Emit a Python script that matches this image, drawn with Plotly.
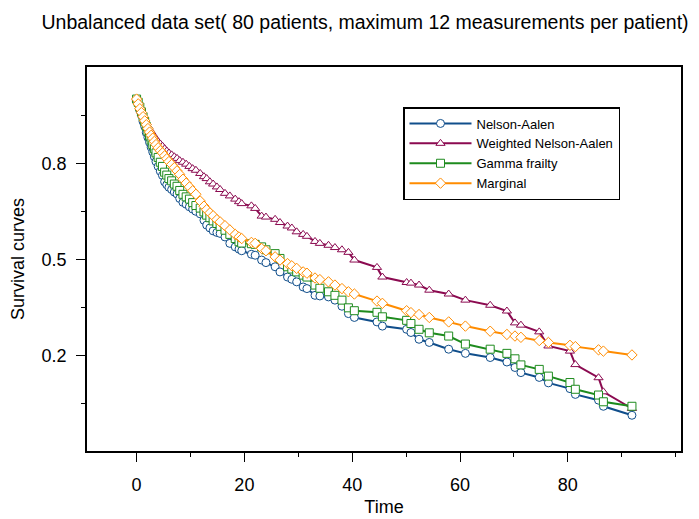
import plotly.graph_objects as go

time = [0, 0.3, 0.6, 0.9, 1.2, 1.5, 1.8, 2.1, 2.4, 2.7, 3.0, 3.3, 3.6, 4.0, 4.4, 4.8,
        5.2, 5.6, 6.0, 6.5, 7.0, 7.5, 8.0, 8.6, 9.2, 9.8, 10.4, 11.0, 11.8, 12.5, 13.0,
        13.6, 14.2, 14.9, 15.5, 16.4, 17.3, 18.3, 19.0, 19.5, 21.3, 22.0, 23.2, 24.0,
        25.7, 26.6, 28.0, 28.8, 29.7, 30.9, 31.6, 33.1, 34.0, 35.6, 36.8, 38.1, 39.3,
        40.4, 44.6, 45.6, 50.1, 50.9, 52.4, 54.3, 57.9, 61.0, 65.6, 68.7, 70.2, 71.3,
        74.7, 76.4, 80.4, 81.4, 85.7, 86.6, 91.9]

nelson_aalen = [1.00, 0.985, 0.965, 0.95, 0.93, 0.915, 0.895, 0.88, 0.865, 0.85, 0.835,
                0.82, 0.805, 0.79, 0.775, 0.762, 0.742, 0.733, 0.725, 0.718, 0.71, 0.704,
                0.69, 0.678, 0.672, 0.664, 0.657, 0.65, 0.642, 0.622, 0.607, 0.598, 0.589,
                0.584, 0.581, 0.570, 0.550, 0.539, 0.532, 0.527, 0.516, 0.513, 0.498,
                0.490, 0.477, 0.461, 0.445, 0.438, 0.430, 0.414, 0.409, 0.388, 0.386,
                0.383, 0.373, 0.354, 0.331, 0.319, 0.305, 0.292, 0.282, 0.272, 0.251,
                0.241, 0.220, 0.207, 0.194, 0.180, 0.163, 0.147, 0.132, 0.115, 0.097,
                0.079, 0.061, 0.042, 0.014]

weighted_na = [1.00, 0.99, 0.975, 0.963, 0.95, 0.938, 0.927, 0.915, 0.906, 0.898, 0.89,
               0.882, 0.874, 0.867, 0.86, 0.853, 0.845, 0.838, 0.832, 0.826, 0.820, 0.815,
               0.808, 0.803, 0.797, 0.790, 0.783, 0.778, 0.768, 0.758, 0.752, 0.742, 0.735,
               0.726, 0.718, 0.706, 0.698, 0.688, 0.680, 0.674, 0.667, 0.659, 0.635,
               0.632, 0.625, 0.615, 0.604, 0.598, 0.586, 0.578, 0.572, 0.556, 0.550,
               0.544, 0.537, 0.530, 0.522, 0.498, 0.475, 0.445, 0.428, 0.426, 0.420,
               0.404, 0.392, 0.373, 0.357, 0.339, 0.302, 0.295, 0.274, 0.230, 0.214,
               0.172, 0.131, 0.087, 0.035]

gamma_frailty = [1.00, 0.99, 0.975, 0.96, 0.945, 0.93, 0.915, 0.9, 0.885, 0.872, 0.858,
                 0.845, 0.832, 0.818, 0.803, 0.79, 0.772, 0.763, 0.752, 0.745, 0.735,
                 0.728, 0.715, 0.703, 0.695, 0.688, 0.677, 0.668, 0.660, 0.648, 0.638,
                 0.630, 0.620, 0.612, 0.603, 0.591, 0.578, 0.565, 0.555, 0.551, 0.549,
                 0.547, 0.539, 0.530, 0.518, 0.503, 0.477, 0.470, 0.461, 0.451, 0.445,
                 0.420, 0.410, 0.399, 0.388, 0.373, 0.349, 0.340, 0.335, 0.321, 0.310,
                 0.300, 0.282, 0.271, 0.261, 0.236, 0.220, 0.207, 0.190, 0.171, 0.157,
                 0.136, 0.116, 0.095, 0.077, 0.056, 0.042]

marginal = [1.00, 0.985, 0.970, 0.958, 0.945, 0.932, 0.920, 0.908, 0.897, 0.887, 0.878,
            0.868, 0.858, 0.848, 0.839, 0.832, 0.823, 0.814, 0.805, 0.796, 0.786, 0.776,
            0.765, 0.750, 0.738, 0.726, 0.714, 0.703, 0.682, 0.666, 0.655, 0.645, 0.636,
            0.624, 0.617, 0.605, 0.592, 0.578, 0.570, 0.565, 0.553, 0.550, 0.534, 0.527,
            0.508, 0.498, 0.487, 0.480, 0.472, 0.461, 0.457, 0.442, 0.437, 0.430, 0.420,
            0.409, 0.399, 0.392, 0.370, 0.363, 0.340, 0.334, 0.328, 0.319, 0.305, 0.292,
            0.276, 0.266, 0.261, 0.257, 0.247, 0.241, 0.232, 0.228, 0.218, 0.214, 0.202]

series_names = ["Nelson-Aalen", "Weighted Nelson-Aalen", "Gamma frailty", "Marginal"]
x_tick_vals = [0, 20, 40, 60, 80]
y_tick_vals = [0.2, 0.5, 0.8]
y_minor_vals = [0.05, 0.35, 0.65, 0.95]

styles = [
    ("#104E8B", "circle"),
    ("#8B0A50", "triangle-up"),
    ("#1E8B1E", "square"),
    ("#FF8C00", "diamond"),
]

fig = go.Figure()
for name, vals, (col, sym) in zip(series_names,
                                  [nelson_aalen, weighted_na, gamma_frailty, marginal],
                                  styles):
    fig.add_trace(go.Scatter(
        x=time, y=vals, name=name, mode="lines+markers",
        line=dict(color=col, width=2),
        marker=dict(symbol=sym, size=8, color="white",
                    line=dict(color=col, width=1)),
    ))

font_family = "Liberation Sans, Arial, Helvetica, sans-serif"
fig.update_layout(
    width=699, height=519,
    margin=dict(l=87, r=18, t=67, b=68),
    paper_bgcolor="white", plot_bgcolor="white",
    font=dict(family=font_family, size=18, color="black"),
    title=dict(text="Unbalanced data set( 80 patients, maximum 12 measurements per patient)",
               x=365 / 699, xanchor="center", xref="container",
               y=1 - 22 / 519, yanchor="middle", yref="container",
               font=dict(size=19.5, color="black")),
    showlegend=True,
    legend=dict(x=(403 - 87) / 594, y=(451 - 107) / 384, xanchor="left", yanchor="top",
                xref="paper", yref="paper",
                bgcolor="white", bordercolor="black", borderwidth=1.5,
                font=dict(size=13, color="black"), itemwidth=62),
)
fig.update_xaxes(
    range=[-9.2, 101], tickvals=x_tick_vals, ticks="outside", ticklen=9, tickwidth=1,
    tickcolor="black", showgrid=False, zeroline=False, showline=True, linecolor="black",
    linewidth=1.5, mirror=True, ticklabelstandoff=8, automargin=False,
    minor=dict(dtick=10, tick0=0, ticks="outside", ticklen=4, tickcolor="black", showgrid=False),
    title=dict(text="Time", standoff=6, font=dict(size=18)),
)
fig.update_yaxes(
    range=[-0.0975, 1.1], tickvals=y_tick_vals, ticktext=["0.2", "0.5", "0.8"],
    ticks="outside", ticklen=9, tickwidth=1,
    tickcolor="black", showgrid=False, zeroline=False, showline=True, linecolor="black",
    linewidth=1.5, mirror=True, ticklabelstandoff=6, automargin=False,
    minor=dict(tickmode="array", tickvals=y_minor_vals, ticks="outside", ticklen=4,
               tickcolor="black", showgrid=False),
    title=dict(text="Survival curves", standoff=12, font=dict(size=18)),
)

fig.write_html("out.html", config={"displayModeBar": False},
               post_script="document.body.style.margin='0';")
